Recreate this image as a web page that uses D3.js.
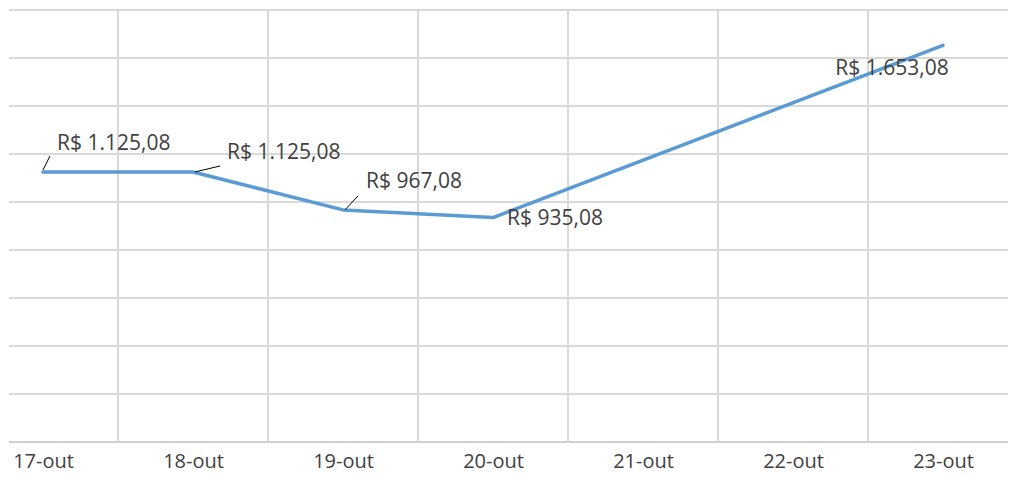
<!DOCTYPE html>
<html>
<head>
<meta charset="utf-8">
<script src="https://cdn.jsdelivr.net/npm/d3@7"></script>
<style>
  body { margin: 0; background: #fff; }
  text { font-family: "Open Sans", "Liberation Sans", sans-serif; fill: #404040; }
</style>
</head>
<body>
<script>
// Chart data
const categories = ["17-out", "18-out", "19-out", "20-out", "21-out", "22-out", "23-out"];
const values = [1125.08, 1125.08, 967.08, 935.08, null, null, 1653.08];
const yTicks = [0, 200, 400, 600, 800, 1000, 1200, 1400, 1600, 1800];

// Label placement (dx, dy from point, anchor, leader line)
const labelPlacement = [
  { dx: 14, dy: -22, anchor: "start", leader: [[0, -2], [7, -16]] },
  { dx: 34, dy: -13, anchor: "start", leader: [[2, 0], [27, -6]] },
  { dx: 23, dy: -22, anchor: "start", leader: [[2, 0], [15, -14]] },
  { dx: 14, dy: 7, anchor: "start", leader: null },
  null,
  null,
  { dx: -51, dy: 30, anchor: "middle", leader: null }
];

const width = 1010;
const height = 477;
const plotLeft = 9, plotRight = 1008, plotTop = 10, plotBottom = 442;

const fmt = v => "R$ " + d3.format(",.2f")(v).replace(/,/g, "#").replace(".", ",").replace(/#/g, ".");

const svg = d3.select("body")
  .append("svg")
  .attr("width", width)
  .attr("height", height);

const x = d3.scalePoint()
  .domain(categories)
  .range([43, 943]);
const step = x.step();

const y = d3.scaleLinear()
  .domain([0, 1800])
  .range([plotBottom, plotTop]);

// Horizontal gridlines
svg.append("g")
  .selectAll("line")
  .data(yTicks.slice(1))
  .enter()
  .append("line")
  .attr("x1", plotLeft)
  .attr("x2", plotRight)
  .attr("y1", d => y(d))
  .attr("y2", d => y(d))
  .attr("stroke", "#d9d9d9")
  .attr("stroke-width", 2);

// Vertical gridlines between categories
svg.append("g")
  .selectAll("line")
  .data(categories.slice(0, -1))
  .enter()
  .append("line")
  .attr("x1", d => x(d) + step / 2)
  .attr("x2", d => x(d) + step / 2)
  .attr("y1", plotTop)
  .attr("y2", plotBottom)
  .attr("stroke", "#d9d9d9")
  .attr("stroke-width", 2);

// X axis
const xAxis = d3.axisBottom(x).tickSize(0).tickPadding(12);
const gx = svg.append("g")
  .attr("transform", `translate(0,${plotBottom})`)
  .call(xAxis);
gx.select(".domain").remove();
gx.selectAll("text")
  .attr("font-size", 20)
  .style("font-family", '"Open Sans", sans-serif')
  .attr("fill", "#404040");
svg.append("line")
  .attr("x1", plotLeft)
  .attr("x2", plotRight)
  .attr("y1", plotBottom)
  .attr("y2", plotBottom)
  .attr("stroke", "#d0d0d0")
  .attr("stroke-width", 2);

const pts = categories.map((c, i) => ({ cat: c, value: values[i], place: labelPlacement[i] }))
  .filter(d => d.value != null);

// Line (gaps connected)
const line = d3.line()
  .x(d => x(d.cat))
  .y(d => y(d.value));

svg.append("path")
  .datum(pts)
  .attr("fill", "none")
  .attr("stroke", "#5b9bd5")
  .attr("stroke-width", 3.5)
  .attr("stroke-linecap", "round")
  .attr("stroke-linejoin", "round")
  .attr("d", line);

// Leader lines
svg.selectAll(".leader")
  .data(pts.filter(d => d.place && d.place.leader))
  .enter()
  .append("line")
  .attr("class", "leader")
  .attr("x1", d => x(d.cat) + d.place.leader[0][0])
  .attr("y1", d => y(d.value) + d.place.leader[0][1])
  .attr("x2", d => x(d.cat) + d.place.leader[1][0])
  .attr("y2", d => y(d.value) + d.place.leader[1][1])
  .attr("stroke", "#000")
  .attr("stroke-width", 1);

// Data labels
svg.selectAll(".label")
  .data(pts)
  .enter()
  .append("text")
  .attr("class", "label")
  .text(d => fmt(d.value))
  .attr("x", d => x(d.cat) + d.place.dx)
  .attr("y", d => y(d.value) + d.place.dy)
  .attr("text-anchor", d => d.place.anchor)
  .attr("font-size", 21);
</script>
</body>
</html>
